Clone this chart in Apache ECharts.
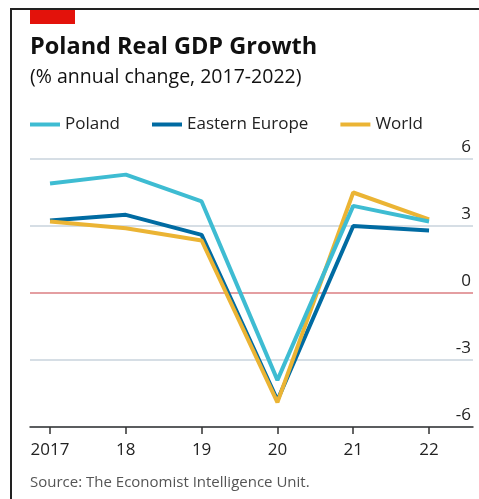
<!DOCTYPE html>
<html><head><meta charset="utf-8">
<script src="https://cdn.jsdelivr.net/npm/echarts@6/dist/echarts.min.js"></script>
<style>html,body{margin:0;padding:0;background:#fff}#c{width:479px;height:499px}</style>
</head><body><div id="c"></div>
<script>
const years = [2017, 2018, 2019, 2020, 2021, 2022];
const yearLabels = ['2017', '18', '19', '20', '21', '22'];
const poland = [4.9, 5.3, 4.1, -3.9, 3.9, 3.2];
const easternEurope = [3.25, 3.5, 2.6, -4.8, 3.0, 2.8];
const world = [3.2, 2.9, 2.35, -4.9, 4.5, 3.3];
const yTicks = [-6, -3, 0, 3, 6];

const font = '"Open Sans", "Noto Sans", sans-serif';
const chart = echarts.init(document.getElementById('c'), null, {renderer: 'canvas'});
const pair = (arr) => years.map((y, i) => [y, arr[i]]);
const labelMap = {};
years.forEach((y, i) => labelMap[y] = yearLabels[i]);

chart.setOption({
  animation: false,
  backgroundColor: '#fff',
  textStyle: {fontFamily: font},
  title: [{
    text: 'Poland Real GDP Growth', left: 25, top: 30,
    textStyle: {fontSize: 23.5, fontWeight: 'bold', color: '#111', fontFamily: font}
  }, {
    text: '(% annual change, 2017-2022)', left: 25, top: 62,
    textStyle: {fontSize: 19.5, fontWeight: 'normal', color: '#111', fontFamily: font}
  }, {
    text: 'Source: The Economist Intelligence Unit.', left: 25, top: 470,
    textStyle: {fontSize: 15, fontWeight: 'normal', color: '#555', fontFamily: font}
  }],
  legend: {
    left: 25, top: 111, icon: 'rect', itemWidth: 30, itemHeight: 4, itemGap: 32,
    textStyle: {fontSize: 17, color: '#222', fontFamily: font},
    data: ['Poland', 'Eastern Europe', 'World']
  },
  grid: {left: 30, right: 6, top: 159, bottom: 72, containLabel: false},
  xAxis: {
    type: 'value', min: 2016.736, max: 2022.58,
    splitLine: {show: false},
    axisLine: {show: true, onZero: false, lineStyle: {color: '#333', width: 1.5}},
    axisTick: {show: true, length: 7, lineStyle: {color: '#333', width: 1.5}, customValues: years},
    axisLabel: {customValues: years, formatter: v => labelMap[Math.round(v)] || '', fontSize: 17, color: '#222', margin: 15, fontFamily: font}
  },
  yAxis: {
    type: 'value', position: 'right', min: -6, max: 6, interval: 3,
    axisLine: {show: false}, axisTick: {show: false},
    splitLine: {lineStyle: {color: '#c9d3dc', width: 1.5}},
    axisLabel: {inside: true, margin: 2, verticalAlign: 'bottom', padding: [0, 0, 3, 0], fontSize: 17, color: '#222', fontFamily: font,
      formatter: v => yTicks.indexOf(v) >= 0 ? String(v) : ''}
  },
  series: [{
    name: 'Eastern Europe', type: 'line', data: pair(easternEurope), symbol: 'none',
    lineStyle: {color: '#006ba2', width: 4}, itemStyle: {color: '#006ba2'}, z: 3
  }, {
    name: 'World', type: 'line', data: pair(world), symbol: 'none',
    lineStyle: {color: '#ebb434', width: 4}, itemStyle: {color: '#ebb434'}, z: 4
  }, {
    name: 'Poland', type: 'line', data: pair(poland), symbol: 'none',
    lineStyle: {color: '#3ebcd2', width: 4}, itemStyle: {color: '#3ebcd2'}, z: 5,
    markLine: {silent: true, symbol: 'none', label: {show: false},
      lineStyle: {color: '#e8898a', width: 1.5, type: 'solid'}, data: [{yAxis: 0}], z: 1}
  }],
  graphic: [
    {type: 'rect', shape: {x: 30, y: 10, width: 45, height: 14}, style: {fill: '#e3120b'}},
    {type: 'line', shape: {x1: 10, y1: 9, x2: 479, y2: 9}, style: {stroke: '#222', lineWidth: 2}},
    {type: 'line', shape: {x1: 11, y1: 8, x2: 11, y2: 499}, style: {stroke: '#222', lineWidth: 2}}
  ]
});
</script></body></html>
